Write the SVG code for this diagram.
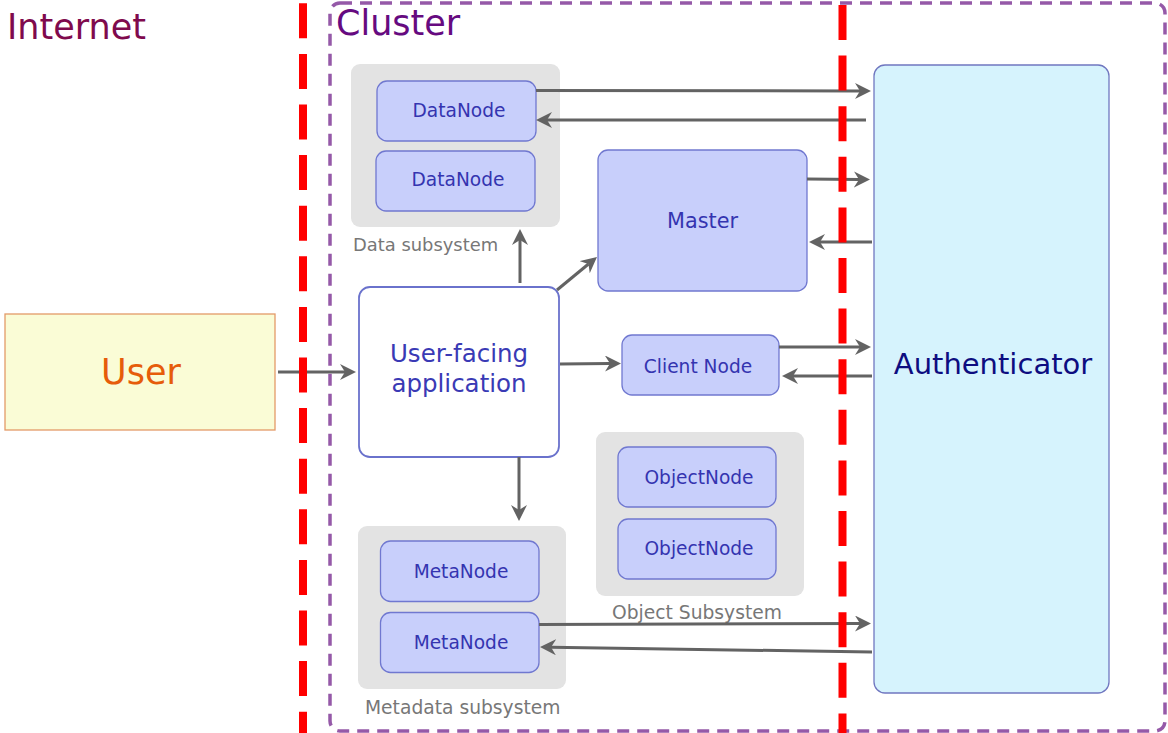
<svg xmlns="http://www.w3.org/2000/svg" width="1168" height="733" viewBox="0 0 1168 733">
  <defs>
    <style>
      text { font-family: "DejaVu Sans", "Liberation Sans", sans-serif; }
      .zone { font-size: 35px; }
      .group { fill: #e3e3e3; stroke: none; }
      .group-label { fill: #777777; font-size: 18.7px; }
      .node { fill: #c8cffb; stroke: #7078d0; stroke-width: 1.3; }
      .node-text { fill: #3434b0; font-size: 18.6px; text-anchor: middle; }
      .link { fill: none; stroke: #636363; stroke-width: 3; }
      .boundary { fill: none; stroke: #ff0000; stroke-width: 8; stroke-dasharray: 35 15.6; }
    </style>
    <marker id="arrow" markerUnits="userSpaceOnUse" markerWidth="18" markerHeight="18" refX="5" refY="8" orient="auto">
      <path d="M0,0 L16,8 L0,16 L5,8 Z" fill="#636363"/>
    </marker>
  </defs>

  <rect width="1168" height="733" fill="#ffffff"/>

  <!-- cluster boundary -->
  <g id="cluster">
    <rect x="330" y="3" width="835" height="728" rx="10" fill="none" stroke="#9559a8" stroke-width="3.5" stroke-dasharray="12 8"/>
    <text x="336" y="35" class="zone" fill="#660a80">Cluster</text>
  </g>

  <g id="internet">
    <text x="7" y="39" class="zone" fill="#7f0a4d">Internet</text>
  </g>

  <!-- subsystem backgrounds -->
  <g id="data-subsystem">
    <rect x="351" y="64" width="209" height="163" rx="9" class="group"/>
    <text x="353" y="251" class="group-label" style="font-size:17.9px">Data subsystem</text>
  </g>
  <g id="object-subsystem">
    <rect x="596" y="432" width="208" height="164" rx="9" class="group"/>
    <text x="612" y="619" class="group-label">Object Subsystem</text>
  </g>
  <g id="metadata-subsystem">
    <rect x="358" y="526" width="208" height="163" rx="9" class="group"/>
    <text x="365" y="714" class="group-label">Metadata subsystem</text>
  </g>

  <!-- nodes -->
  <g id="user">
    <rect x="5" y="314" width="270" height="116" fill="#fafcd6" stroke="#e39a68" stroke-width="1.3"/>
    <text x="141" y="384" font-size="35" fill="#e65c0a" text-anchor="middle">User</text>
  </g>

  <g id="user-facing-application">
    <rect x="359" y="287" width="200" height="170" rx="11" fill="#ffffff" stroke="#6a72cc" stroke-width="1.8"/>
    <text x="459" y="362" font-size="24.5" fill="#3a3ab5" text-anchor="middle">User-facing</text>
    <text x="459" y="392" font-size="24.5" fill="#3a3ab5" text-anchor="middle">application</text>
  </g>

  <g id="datanode-1">
    <rect x="377" y="81" width="159" height="60" rx="10" class="node"/>
    <text x="459" y="117" class="node-text">DataNode</text>
  </g>
  <g id="datanode-2">
    <rect x="376" y="151" width="159" height="60" rx="10" class="node"/>
    <text x="458" y="186" class="node-text">DataNode</text>
  </g>

  <g id="master">
    <rect x="598" y="150" width="209" height="141" rx="10" class="node"/>
    <text x="702.5" y="228" class="node-text" style="font-size:20.8px">Master</text>
  </g>

  <g id="client-node">
    <rect x="622" y="335" width="157" height="60" rx="10" class="node"/>
    <text x="698" y="372.5" class="node-text">Client Node</text>
  </g>

  <g id="objectnode-1">
    <rect x="618" y="447" width="158" height="60" rx="10" class="node"/>
    <text x="699" y="483.5" class="node-text">ObjectNode</text>
  </g>
  <g id="objectnode-2">
    <rect x="618" y="519" width="158" height="60" rx="10" class="node"/>
    <text x="699" y="555" class="node-text">ObjectNode</text>
  </g>

  <g id="metanode-1">
    <rect x="380.5" y="541" width="158.5" height="60.5" rx="10" class="node"/>
    <text x="461" y="577.5" class="node-text">MetaNode</text>
  </g>
  <g id="metanode-2">
    <rect x="380.5" y="612.5" width="158.5" height="60" rx="10" class="node"/>
    <text x="461" y="649" class="node-text">MetaNode</text>
  </g>

  <g id="authenticator">
    <rect x="874" y="65" width="235" height="628" rx="11" fill="#d6f3fd" stroke="#7077c0" stroke-width="1.3"/>
    <text x="993" y="374" font-size="29" fill="#0d0d80" text-anchor="middle">Authenticator</text>
  </g>

  <!-- connectors -->
  <g id="connectors">
    <line x1="278" y1="372" x2="345" y2="372" class="link" marker-end="url(#arrow)"/>
    <line x1="520" y1="283" x2="520" y2="240" class="link" marker-end="url(#arrow)"/>
    <line x1="557" y1="290" x2="588.5" y2="264" class="link" marker-end="url(#arrow)"/>
    <line x1="560" y1="364" x2="610" y2="363.5" class="link" marker-end="url(#arrow)"/>
    <line x1="519" y1="457" x2="519" y2="510" class="link" marker-end="url(#arrow)"/>

    <line x1="536" y1="90.5" x2="860" y2="91" class="link" marker-end="url(#arrow)"/>
    <line x1="866" y1="120" x2="547" y2="120" class="link" marker-end="url(#arrow)"/>
    <line x1="807" y1="179" x2="859" y2="179.5" class="link" marker-end="url(#arrow)"/>
    <line x1="872" y1="242" x2="820" y2="242" class="link" marker-end="url(#arrow)"/>
    <line x1="779" y1="347" x2="860" y2="347" class="link" marker-end="url(#arrow)"/>
    <line x1="872" y1="376" x2="793" y2="376" class="link" marker-end="url(#arrow)"/>
    <line x1="539" y1="624.5" x2="860" y2="623.5" class="link" marker-end="url(#arrow)"/>
    <line x1="872" y1="652" x2="551" y2="647.2" class="link" marker-end="url(#arrow)"/>
  </g>

  <!-- network boundaries -->
  <g id="boundaries">
    <line x1="303" y1="3.3" x2="303" y2="733" class="boundary"/>
    <line x1="842.5" y1="5" x2="842.5" y2="733" class="boundary"/>
  </g>
</svg>
